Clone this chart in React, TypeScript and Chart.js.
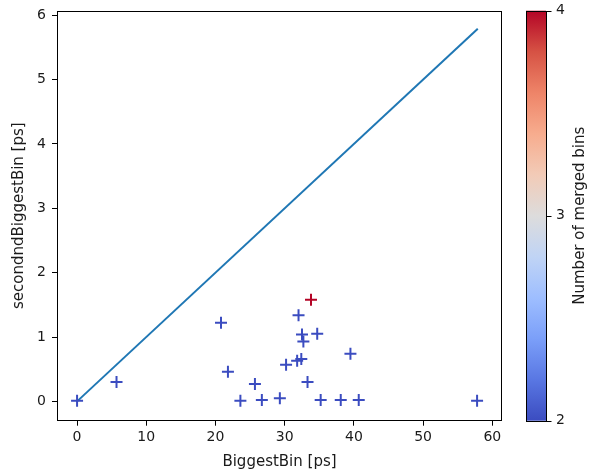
import React, { useEffect, useRef } from 'react';
import { Chart, registerables } from 'chart.js';

Chart.register(...registerables);

// ---- data ----
const biggestBin = [0, 5.7, 20.8, 21.8, 23.6, 25.7, 26.7, 29.3, 30.2, 31.8, 32.4, 32.0, 32.5, 32.7, 34.7, 33.8, 33.3, 35.2, 38.1, 39.5, 40.7, 57.8];
const secondBiggestBin = [0.01, 0.3, 1.22, 0.46, 0.01, 0.27, 0.02, 0.05, 0.57, 0.63, 0.66, 1.34, 1.04, 0.93, 1.05, 1.58, 0.3, 0.02, 0.02, 0.74, 0.02, 0.01];
const mergedBins = [2, 2, 2, 2, 2, 2, 2, 2, 2, 2, 2, 2, 2, 2, 2, 4, 2, 2, 2, 2, 2, 2];
const diagonalX = [0, 57.9];
const diagonalY = [0, 5.79];
const colorbarMin = 2;
const colorbarMax = 4;
const colorbarTicks = [2, 3, 4];

const coolwarmStops = ['#3b4cc0', '#5977e3', '#7b9ff9', '#9ebeff', '#c0d4f5', '#dddcdc', '#f2cbb7', '#f7ac8e', '#ee8468', '#d65244', '#b40426'];

function hexToRgb(h: string) {
  return [parseInt(h.slice(1, 3), 16), parseInt(h.slice(3, 5), 16), parseInt(h.slice(5, 7), 16)];
}
function coolwarm(t: number) {
  const tt = Math.max(0, Math.min(1, t)) * (coolwarmStops.length - 1);
  const i = Math.min(Math.floor(tt), coolwarmStops.length - 2);
  const f = tt - i;
  const a = hexToRgb(coolwarmStops[i]);
  const b = hexToRgb(coolwarmStops[i + 1]);
  const c = a.map((v, k) => Math.round(v + (b[k] - v) * f));
  return `rgb(${c[0]},${c[1]},${c[2]})`;
}

const FONT = 'DejaVu Sans';
const TEXT = '#1a1a1a';
const TICK_SIZE = 14;
const TITLE_SIZE = 15;

const colorbarPlugin = {
  id: 'colorbarPlugin',
  afterDraw(chart: any) {
    const { ctx, chartArea } = chart;
    const cb = chart.scales.cb;
    const x0 = Math.round(chartArea.right) + 24;
    const w = 20;
    const top = cb.getPixelForValue(colorbarMax);
    const bottom = cb.getPixelForValue(colorbarMin);
    ctx.save();
    const grad = ctx.createLinearGradient(0, bottom, 0, top);
    coolwarmStops.forEach((c, i) => grad.addColorStop(i / (coolwarmStops.length - 1), c));
    ctx.fillStyle = grad;
    ctx.fillRect(x0, top, w, bottom - top);
    ctx.strokeStyle = '#000';
    ctx.lineWidth = 1;
    ctx.strokeRect(x0 + 0.5, Math.round(top) + 0.5, w, Math.round(bottom - top));
    cb.ticks.forEach((t: any) => {
      const y = Math.round(cb.getPixelForValue(t.value)) + 0.5;
      ctx.beginPath();
      ctx.moveTo(x0 + w + 0.5, y);
      ctx.lineTo(x0 + w + 5.5, y);
      ctx.stroke();
    });
    // colorbar label
    ctx.translate(chartArea.right + 78, (top + bottom) / 2);
    ctx.rotate(-Math.PI / 2);
    ctx.fillStyle = TEXT;
    ctx.font = `${TITLE_SIZE}px "${FONT}"`;
    ctx.textAlign = 'center';
    ctx.textBaseline = 'middle';
    ctx.fillText('Number of merged bins', 0, 0);
    ctx.restore();
    // plot frame
    ctx.save();
    ctx.strokeStyle = '#000';
    ctx.lineWidth = 1;
    ctx.strokeRect(
      Math.round(chartArea.left) + 0.5,
      Math.round(chartArea.top) + 0.5,
      Math.round(chartArea.right - chartArea.left) - 1,
      Math.round(chartArea.bottom - chartArea.top) - 1
    );
    ctx.restore();
  },
};

export default function App() {
  const ref = useRef<HTMLCanvasElement>(null);
  useEffect(() => {
    document.body.style.margin = '0';
    const canvas = ref.current!;
    const points = biggestBin.map((x, i) => ({ x, y: secondBiggestBin[i] }));
    const pointColors = mergedBins.map((m) => coolwarm((m - colorbarMin) / (colorbarMax - colorbarMin)));
    const tickFont = { family: FONT, size: TICK_SIZE };
    const titleFont = { family: FONT, size: TITLE_SIZE };
    const chart = new Chart(canvas, {
      type: 'scatter',
      data: {
        datasets: [
          {
            type: 'scatter',
            data: points,
            pointStyle: 'cross',
            pointRadius: 6,
            pointBorderWidth: 2,
            borderColor: pointColors,
            backgroundColor: pointColors,
            pointBorderColor: pointColors,
            order: 1,
          } as any,
          {
            type: 'line',
            data: diagonalX.map((x, i) => ({ x, y: diagonalY[i] })),
            borderColor: '#1f77b4',
            borderWidth: 2,
            pointRadius: 0,
            fill: false,
            order: 2,
          } as any,
        ],
      },
      options: {
        animation: false,
        responsive: false,
        devicePixelRatio: 1,
        layout: { padding: { top: 10.7, left: 0, right: 0, bottom: 0 } },
        plugins: { legend: { display: false }, tooltip: { enabled: false } },
        scales: {
          x: {
            type: 'linear',
            position: 'bottom',
            min: -2.9,
            max: 61.4,
            ticks: { stepSize: 10, includeBounds: false, font: tickFont, color: TEXT, padding: 3, maxRotation: 0 },
            grid: { drawOnChartArea: false, tickLength: 5, color: '#000', lineWidth: 1 },
            border: { display: false },
            title: { display: true, text: 'BiggestBin [ps]', font: titleFont, color: TEXT, padding: { top: 0, bottom: 3.7 } },
            afterFit: (s: any) => { s.height = 54.3; s.paddingLeft = 0; s.paddingRight = 0; },
          },
          y: {
            type: 'linear',
            position: 'left',
            min: -0.3,
            max: 6.07,
            ticks: { stepSize: 1, includeBounds: false, font: tickFont, color: TEXT, padding: 6 },
            grid: { drawOnChartArea: false, tickLength: 5, color: '#000', lineWidth: 1 },
            border: { display: false },
            title: { display: true, text: 'secondndBiggestBin [ps]', font: titleFont, color: TEXT, padding: { top: 10, bottom: 0 } },
            afterFit: (s: any) => { s.width = 57; s.paddingTop = 0; s.paddingBottom = 0; },
          },
          cb: {
            type: 'linear',
            position: 'right',
            min: colorbarMin,
            max: colorbarMax,
            afterBuildTicks: (s: any) => { s.ticks = colorbarTicks.map((v) => ({ value: v })); },
            ticks: { font: tickFont, color: TEXT, padding: 4 },
            grid: { drawOnChartArea: false, tickLength: 50, color: 'rgba(0,0,0,0)' },
            border: { display: false },
            afterFit: (s: any) => { s.width = 100; s.paddingTop = 0; s.paddingBottom = 0; },
          },
        },
      } as any,
      plugins: [colorbarPlugin],
    });
    return () => chart.destroy();
  }, []);
  return <canvas ref={ref} width={602} height={475} style={{ display: 'block' }} />;
}
